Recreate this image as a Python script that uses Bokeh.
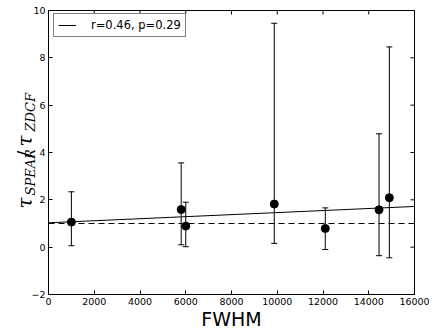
import numpy as np
from bokeh.plotting import figure
from bokeh.models import (ColumnDataSource, Whisker, TeeHead,
                          Range1d, FixedTicker, Legend, LegendItem)
from bokeh.core.properties import value
from bokeh.embed import file_html
from bokeh.resources import INLINE

# ---- data ----
fwhm = [1000, 5800, 6000, 9870, 12100, 14450, 14900]
ratio = [1.06, 1.59, 0.89, 1.82, 0.79, 1.58, 2.09]
err_upper = [2.34, 3.56, 1.90, 9.46, 1.66, 4.79, 8.46]
err_lower = [0.06, 0.10, 0.02, 0.16, -0.10, -0.36, -0.45]
fit_x = [0, 16000]
fit_y = [1.03, 1.72]
ref_level = 1.0
legend_text = "r=0.46, p=0.29"
x_ticks = [0, 2000, 4000, 6000, 8000, 10000, 12000, 14000, 16000]
y_ticks = [-2, 0, 2, 4, 6, 8, 10]
X_MIN, X_MAX = 0, 16000
Y_MIN, Y_MAX = -2, 10

# y-axis label pieces: tau_SPEAR / tau_ZDCF
ylabel_texts = ["τ", "SPEAR", "/", "τ", "ZDCF"]

TICK_FONT = "DejaVu Sans"
SERIF = "DejaVu Serif"
W, H = 436, 331
FRAME_L, FRAME_R, FRAME_T, FRAME_B = 48, 414, 10, 294   # page pixels of the plot box
px_x = (X_MAX - X_MIN) / (FRAME_R - FRAME_L)
px_y = (Y_MAX - Y_MIN) / (FRAME_B - FRAME_T)
# the drawing area covers the whole canvas; the box is drawn with fixed-location axes
XR = Range1d(X_MIN - FRAME_L * px_x, X_MAX + (W - FRAME_R) * px_x)
YR = Range1d(Y_MAX - (H - FRAME_T) * px_y, Y_MAX + FRAME_T * px_y)

p = figure(width=W, height=H, output_backend="svg", toolbar_location=None,
           x_range=XR, y_range=YR, min_border=0)
p.grid.visible = False
p.outline_line_color = None
p.background_fill_color = "white"
p.border_fill_color = "white"

xax = p.xaxis[0]
yax = p.yaxis[0]
xax.ticker = FixedTicker(ticks=x_ticks)
yax.ticker = FixedTicker(ticks=y_ticks)
xax.bounds = (X_MIN, X_MAX)
yax.bounds = (Y_MIN, Y_MAX)
xax.fixed_location = Y_MIN
yax.fixed_location = X_MIN
for ax in (xax, yax):
    ax.major_tick_in = 4
    ax.major_tick_out = 0
    ax.minor_tick_line_color = None
    ax.axis_line_color = "black"
    ax.major_tick_line_color = "black"
    ax.major_label_text_font = TICK_FONT
    ax.major_label_text_color = "black"
    ax.major_label_text_font_size = "9.5px"
    ax.major_label_standoff = 3

xax.axis_label = "FWHM"
xax.axis_label_text_font = TICK_FONT
xax.axis_label_text_font_style = "normal"
xax.axis_label_text_font_size = "19px"
xax.axis_label_text_color = "black"
xax.axis_label_standoff = 0

# top and right edges of the box, with inward ticks
p.segment(x0=[X_MIN, X_MAX], y0=[Y_MAX, Y_MIN], x1=[X_MAX, X_MAX], y1=[Y_MAX, Y_MAX],
          line_color="black", line_width=1)
p.segment(x0=x_ticks, y0=[Y_MAX] * len(x_ticks), x1=x_ticks,
          y1=[Y_MAX - 4 * px_y] * len(x_ticks), line_color="black", line_width=1)
p.segment(x0=[X_MAX] * len(y_ticks), y0=y_ticks, x1=[X_MAX - 4 * px_x] * len(y_ticks),
          y1=y_ticks, line_color="black", line_width=1)

# reference dashed line
p.line([X_MIN, X_MAX], [ref_level, ref_level], line_color="black", line_width=1,
       line_dash="6 4")

# fit line
fit_r = p.line(fit_x, fit_y, line_color="black", line_width=1)

# error bars
src = ColumnDataSource(dict(x=fwhm, y=ratio, upper=err_upper, lower=err_lower))
p.add_layout(Whisker(source=src, base="x", upper="upper", lower="lower",
                     line_color="black", line_width=1,
                     upper_head=TeeHead(size=6, line_color="black", line_width=1),
                     lower_head=TeeHead(size=6, line_color="black", line_width=1)))
p.scatter("x", "y", source=src, size=8, marker="circle", fill_color="black", line_color="black")

legend = Legend(items=[LegendItem(label=legend_text, renderers=[fit_r])],
                location=(53, H - 37), border_line_color="black", border_line_width=1,
                background_fill_color="white", background_fill_alpha=1.0,
                padding=4, margin=0, spacing=0, glyph_width=18, glyph_height=10,
                label_height=10, label_standoff=15, label_text_font=TICK_FONT,
                label_text_font_size="11.5px", label_text_color="black")
p.add_layout(legend)

# rotated y label, placed by page pixels (baseline x, start y)
gx = [24, 30, 24, 24, 30]
gy = [208, 195, 157, 146, 131]
lx = [X_MIN + (g - FRAME_L) * px_x for g in gx]
ly = [Y_MAX - (g - FRAME_T) * px_y for g in gy]
lsize = ["20px", "13px", "20px", "20px", "13px"]
lstyle = ["italic", "italic", "normal", "italic", "italic"]
lsrc = ColumnDataSource(dict(x=lx, y=ly, t=ylabel_texts, fs=lsize, st=lstyle))
p.text(x="x", y="y", text="t", source=lsrc, angle=np.pi / 2,
       text_font=value(SERIF), text_font_size="fs", text_font_style="st",
       text_align="left", text_baseline="alphabetic", text_color="black")

open("out.html", "w").write(file_html(p, INLINE))
